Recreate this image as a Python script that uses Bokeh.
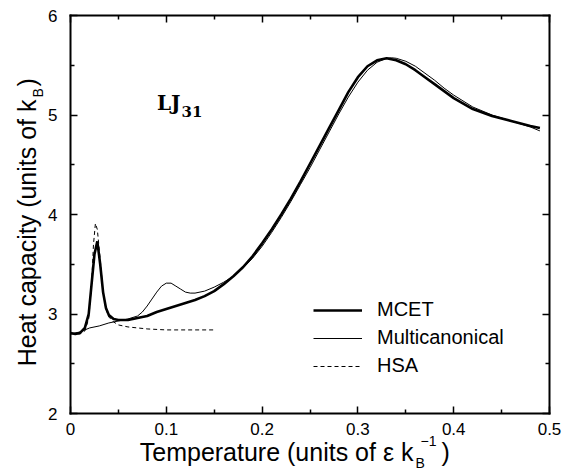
import math
from bokeh.plotting import figure
from bokeh.models import (Range1d, LinearAxis, FixedTicker, Label, Legend, LegendItem,
                          CustomLabelingPolicy)
from bokeh.embed import file_html
from bokeh.resources import INLINE

# ---------------- data ----------------
t_mcet = [0.0, 0.005, 0.01, 0.015, 0.019, 0.022, 0.025, 0.028, 0.031, 0.034, 0.037,
          0.040, 0.045, 0.05, 0.06, 0.07, 0.08, 0.09, 0.10, 0.11, 0.12, 0.13, 0.14,
          0.15, 0.16, 0.17, 0.18, 0.19, 0.20, 0.21, 0.22, 0.23, 0.24, 0.25, 0.26,
          0.27, 0.28, 0.29, 0.30, 0.31, 0.32, 0.33, 0.34, 0.35, 0.36, 0.37, 0.38,
          0.39, 0.40, 0.42, 0.44, 0.46, 0.48, 0.49]
c_mcet = [2.81, 2.80, 2.81, 2.86, 3.00, 3.30, 3.60, 3.73, 3.50, 3.22, 3.06,
          2.99, 2.95, 2.94, 2.94, 2.96, 2.98, 3.02, 3.05, 3.08, 3.11, 3.14, 3.18,
          3.23, 3.30, 3.38, 3.47, 3.58, 3.71, 3.85, 4.00, 4.16, 4.33, 4.51, 4.69,
          4.87, 5.05, 5.23, 5.38, 5.49, 5.55, 5.57, 5.55, 5.51, 5.45, 5.38, 5.31,
          5.24, 5.17, 5.06, 4.99, 4.94, 4.89, 4.87]

t_muca = [0.0, 0.01, 0.02, 0.03, 0.04, 0.05, 0.06, 0.07, 0.075, 0.08, 0.085, 0.09,
          0.095, 0.10, 0.105, 0.11, 0.115, 0.12, 0.125, 0.13, 0.14, 0.15, 0.16,
          0.17, 0.18, 0.19, 0.20, 0.21, 0.22, 0.23, 0.24, 0.25, 0.26, 0.27, 0.28,
          0.29, 0.30, 0.31, 0.32, 0.33, 0.335, 0.34, 0.35, 0.36, 0.37, 0.38, 0.39,
          0.40, 0.42, 0.44, 0.46, 0.48, 0.49]
c_muca = [2.80, 2.82, 2.86, 2.88, 2.91, 2.93, 2.95, 2.98, 3.02, 3.08, 3.15, 3.22,
          3.28, 3.31, 3.31, 3.28, 3.25, 3.22, 3.21, 3.21, 3.23, 3.27, 3.32,
          3.38, 3.46, 3.56, 3.68, 3.82, 3.97, 4.13, 4.30, 4.47, 4.65, 4.83, 5.01,
          5.18, 5.33, 5.45, 5.53, 5.57, 5.575, 5.57, 5.54, 5.49, 5.42, 5.35, 5.27,
          5.20, 5.08, 5.00, 4.94, 4.88, 4.84]

t_hsa = [0.0, 0.01, 0.015, 0.019, 0.022, 0.024, 0.026, 0.028, 0.031, 0.034, 0.037,
         0.04, 0.045, 0.05, 0.06, 0.07, 0.08, 0.10, 0.12, 0.15]
c_hsa = [2.80, 2.80, 2.83, 2.95, 3.30, 3.70, 3.91, 3.85, 3.55, 3.22, 3.05,
         2.97, 2.92, 2.89, 2.87, 2.86, 2.85, 2.84, 2.84, 2.84]

series_names = ["MCET", "Multicanonical", "HSA"]

x_ticks = [0.0, 0.1, 0.2, 0.3, 0.4, 0.5]
x_tick_labels = ["0", "0.1", "0.2", "0.3", "0.4", "0.5"]
x_minor = [0.05, 0.15, 0.25, 0.35, 0.45]
y_ticks = [2, 3, 4, 5, 6]
y_tick_labels = ["2", "3", "4", "5", "6"]
y_minor = [2.5, 3.5, 4.5, 5.5]
X0, X1, Y0, Y1 = 0.0, 0.5, 2.0, 6.0

# ---------------- layout ----------------
W, H = 570, 470
FL, FR, FT, FB = 70, 549, 15, 413      # axes box in canvas pixels


def dx(px):
    return X0 + (px - FL) * (X1 - X0) / (FR - FL)


def dy(py):
    return Y0 + (FB - py) * (Y1 - Y0) / (FB - FT)


SANS = "Liberation Sans"

# the plotting frame covers the whole canvas; the four axes are drawn at
# fixed locations so that all texts can sit freely around the box
p = figure(width=W, height=H, x_range=Range1d(dx(0), dx(W)),
           y_range=Range1d(dy(H), dy(0)),
           output_backend="svg", toolbar_location=None, min_border=0,
           min_border_left=0, min_border_right=0, min_border_top=0,
           min_border_bottom=0)
p.xgrid.visible = False
p.ygrid.visible = False
p.xaxis.visible = False
p.yaxis.visible = False
p.outline_line_color = None
p.background_fill_color = "white"
p.border_fill_color = "white"

hide_policy = CustomLabelingPolicy(code="""
const n = indices.size
if (n != null) {
  for (let i = 0; i < n; i++) { try { indices.unset(i) } catch (e) {} }
}
try { indices.clear() } catch (e) {}
return indices
""")


def make_axis(ticks, minor, bounds, loc, show_labels, overrides=None, standoff=0):
    ax = LinearAxis(ticker=FixedTicker(ticks=ticks, minor_ticks=minor),
                    bounds=bounds, fixed_location=loc)
    ax.major_tick_in = 7
    ax.major_tick_out = 0
    ax.minor_tick_in = 4
    ax.minor_tick_out = 0
    ax.axis_line_width = 2
    ax.axis_line_color = "black"
    ax.axis_line_cap = "square"
    ax.major_tick_line_width = 1.5
    ax.minor_tick_line_width = 1.5
    ax.axis_label = None
    if show_labels:
        ax.major_label_overrides = overrides
        ax.major_label_text_font = SANS
        ax.major_label_text_font_size = "17px"
        ax.major_label_text_color = "black"
        ax.major_label_standoff = standoff
    else:
        ax.major_label_policy = hide_policy
        ax.major_label_text_font_size = "0px"
        ax.major_label_standoff = 0
    return ax


p.add_layout(make_axis(x_ticks, x_minor, (X0, X1), Y0, True,
                       dict(zip(x_ticks, x_tick_labels)), 9), "below")
p.add_layout(make_axis(y_ticks, y_minor, (Y0, Y1), X0, True,
                       dict(zip(y_ticks, y_tick_labels)), 13), "left")
p.add_layout(make_axis(x_ticks, x_minor, (X0, X1), Y1, False), "above")
p.add_layout(make_axis(y_ticks, y_minor, (Y0, Y1), X1, False), "right")

r1 = p.line(t_mcet, c_mcet, line_color="black", line_width=2.6)
r2 = p.line(t_muca, c_muca, line_color="black", line_width=1)
r3 = p.line(t_hsa, c_hsa, line_color="black", line_width=1, line_dash="4 3")

legend = Legend(items=[LegendItem(label=series_names[0], renderers=[r1]),
                       LegendItem(label=series_names[1], renderers=[r2]),
                       LegendItem(label=series_names[2], renderers=[r3])],
                location=(313, H - 377), glyph_width=49, glyph_height=20,
                label_height=20, spacing=5, padding=0, margin=0, label_standoff=15,
                border_line_alpha=0, background_fill_alpha=0,
                label_text_font=SANS, label_text_font_size="20px",
                label_text_color="black")
p.add_layout(legend)

BASE_SHIFT = 0.42   # measured drop of the drawn baseline, in em


def lab(px, py, text, size, align="left", rotated=False, font=SANS, style="normal"):
    """px, py: wanted baseline anchor in canvas pixels."""
    corr = BASE_SHIFT * size
    if rotated:
        px = px - corr
    else:
        py = py - corr
    p.add_layout(Label(x=dx(px), y=dy(py), text=text, text_align=align,
                       text_baseline="alphabetic",
                       angle=math.pi / 2 if rotated else 0.0, text_font=font,
                       text_font_style=style, text_font_size=f"{size}px",
                       text_color="black"))


# LJ31 annotation
lab(180, 111, "LJ", 20, align="right", font="DejaVu Serif", style="bold")
lab(181, 117, "31", 15, font="DejaVu Serif", style="bold")

# x axis title: Temperature (units of ε k_B^-1)
lab(413, 462, "Temperature (units of \u03b5 k", 25, align="right")
lab(415, 468, "B", 14)
lab(420, 446, "\u22121", 14)
lab(441, 462, ")", 25)

# y axis title: Heat capacity (units of k_B)
lab(37, 99, "Heat capacity (units of k", 25, align="right", rotated=True)
lab(43, 97, "B", 14, rotated=True)
lab(37, 86, ")", 25, rotated=True)

open("out.html", "w").write(file_html(p, INLINE))
